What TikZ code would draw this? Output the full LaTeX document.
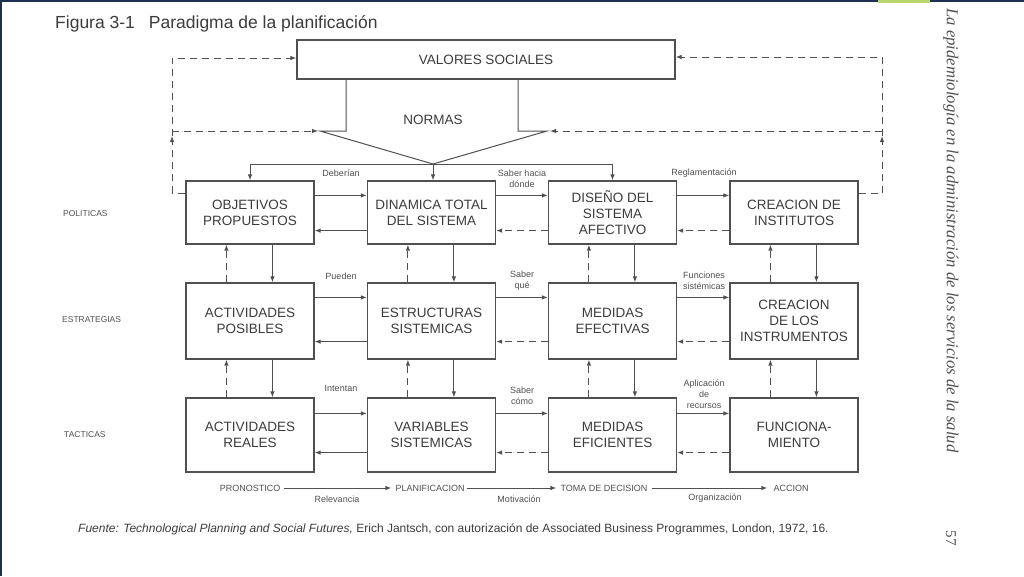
\documentclass[tikz,border=0pt]{standalone}
\usepackage{fontspec}
\setmainfont{Liberation Sans}
\newfontfamily\serifit{Liberation Serif}
\usetikzlibrary{arrows.meta}
\definecolor{ink}{HTML}{505050}
\definecolor{txt}{HTML}{3C3C3C}
\definecolor{navy}{HTML}{1F2F4F}
\definecolor{lime}{HTML}{B9D66E}
\begin{document}
\begin{tikzpicture}[x=1pt,y=-1pt,
  box/.style={draw=ink, line width=1.2pt, minimum width=128pt, text=txt,
    font=\fontsize{13.5}{16}\selectfont, align=center, inner sep=0pt},
  ar/.style={draw=ink, line width=1pt, -{Latex[length=6pt,width=4.5pt]}},
  ln/.style={draw=ink, line width=1pt},
  dsh/.style={dash pattern=on 7pt off 5pt},
  lab/.style={text=ink, font=\fontsize{9}{11}\selectfont, align=center, inner sep=0pt},
  side/.style={text=ink, font=\fontsize{8.5}{10}\selectfont, anchor=west, inner sep=0pt}]
\fill[white] (0,0) rectangle (1024,576);
\useasboundingbox (0,0) rectangle (1024,576);
% frame
\fill[navy] (0,0) rectangle (1024,2);
\fill[navy] (0,0) rectangle (1.5,576);
\fill[lime] (878,0) rectangle (930,2.5);
% title
\node[anchor=west, text=txt, font=\fontsize{17.5}{20}\selectfont, inner sep=0pt] (title) at (55,24)
  {Figura 3-1\hspace{14pt}Paradigma de la planificación};
% top box
\node[box, minimum width=378pt, minimum height=39pt] (val) at (486,59.5) {VALORES SOCIALES};
\node[text=txt, font=\fontsize{13.5}{16}\selectfont, inner sep=0pt] (normas) at (433,120) {NORMAS};
% boxes
\node[box, minimum height=63pt] (a11) at (250,212.5) {OBJETIVOS\\PROPUESTOS};
\node[box, minimum height=63pt] (a12) at (431.5,212.5) {DINAMICA TOTAL\\DEL SISTEMA};
\node[box, minimum height=63pt] (a13) at (612.5,212.5) {DISEÑO DEL\\SISTEMA\\AFECTIVO};
\node[box, minimum height=63pt] (a14) at (794,212.5) {CREACION DE\\INSTITUTOS};
\node[box, minimum height=76pt] (a21) at (250,321) {ACTIVIDADES\\POSIBLES};
\node[box, minimum height=76pt] (a22) at (431.5,321) {ESTRUCTURAS\\SISTEMICAS};
\node[box, minimum height=76pt] (a23) at (612.5,321) {MEDIDAS\\EFECTIVAS};
\node[box, minimum height=76pt] (a24) at (794,321) {CREACION\\DE LOS\\INSTRUMENTOS};
\node[box, minimum height=74pt] (a31) at (250,435) {ACTIVIDADES\\REALES};
\node[box, minimum height=74pt] (a32) at (431.5,435) {VARIABLES\\SISTEMICAS};
\node[box, minimum height=74pt] (a33) at (612.5,435) {MEDIDAS\\EFICIENTES};
\node[box, minimum height=74pt] (a34) at (794,435) {FUNCIONA-\\MIENTO};
% funnel
\coordinate (lv) at (346,131);
\coordinate (ll) at (320,131);
\coordinate (rv) at (518,131);
\coordinate (rr) at (547,131);
\coordinate (apex) at (433,164);
\draw[ln] (val.south -| lv) -- (lv) -- (ll) -- (apex) -- (rr) -- (rv) -- (val.south -| rv);
\coordinate (hl) at (250,164);
\coordinate (hr) at (612.5,164);
\draw[ln] (hl) -- (hr);
\draw[ar] (hl) -- (a11.north);
\draw[ar] (apex) -- (a12.north -| apex);
\draw[ar] (hr) -- (a13.north);
% left dashed loop
\coordinate (lb) at (172,193);
\coordinate (lm) at (172,136);
\coordinate (lj) at (172,131);
\coordinate (lt) at (172,58);
\draw[ln,dsh] (a11.west |- lb) -- (lb);
\draw[ar,dsh] (lb) -- (lm);
\draw[ar,dsh] (lm) -- (lt) -- (val.west |- lt);
\draw[ar,dsh] (lj) -- ([xshift=-2pt]ll);
% right dashed loop
\coordinate (rb) at (882,193);
\coordinate (rm) at (882,136);
\coordinate (rj) at (882,131);
\coordinate (rt) at (882,57);
\draw[ln,dsh] (a14.east |- rb) -- (rb);
\draw[ar,dsh] (rb) -- (rm);
\draw[ar,dsh] (rm) -- (rt) -- (val.east |- rt);
\draw[ar,dsh] (rj) -- ([xshift=3pt]rr);
% horizontal arrows
\foreach \r/\t/\b in {1/15/14,2/15/18,3/16/20} {
  \foreach \c/\n in {1/2,2/3,3/4} {
    \draw[ar] ([yshift=-\t pt]a\r\c.north east) -- ([yshift=-\t pt]a\r\n.north west);
  }
  \draw[ar] ([yshift=\b pt]a\r2.south west) -- ([yshift=\b pt]a\r1.south east);
  \draw[ar,dsh] ([yshift=\b pt]a\r3.south west) -- ([yshift=\b pt]a\r2.south east);
  \draw[ar,dsh] ([yshift=\b pt]a\r4.south west) -- ([yshift=\b pt]a\r3.south east);
}
% vertical arrows
\foreach \c in {1,2,3,4} {
  \foreach \r/\s in {1/2,2/3} {
    \draw[ar,dsh] ([xshift=41pt]a\s\c.north west) -- ([xshift=41pt]a\r\c.south west);
    \draw[ar] ([xshift=87pt]a\r\c.south west) -- ([xshift=87pt]a\s\c.north west);
  }
}
% labels
\node[lab] (l1) at (341,173) {Deberían};
\node[lab] (l2) at (522,179) {Saber hacia\\dónde};
\node[lab] (l3) at (704,173) {Reglamentación};
\node[lab] (l4) at (341,276) {Pueden};
\node[lab] (l5) at (522,281) {Saber\\qué};
\node[lab] (l6) at (704,281) {Funciones\\sistémicas};
\node[lab] (l7) at (341,388) {Intentan};
\node[lab] (l8) at (522,396) {Saber\\cómo};
\node[lab] (l9) at (704,394) {Aplicación\\de\\recursos};
% side labels
\node[side] (s1) at (63,214) {POLITICAS};
\node[side] (s2) at (62,320) {ESTRATEGIAS};
\node[side] (s3) at (64,435) {TACTICAS};
% bottom process
\node[lab] (pr) at (250,488) {PRONOSTICO};
\node[lab] (pl) at (430,488) {PLANIFICACION};
\node[lab] (tm) at (604,488) {TOMA DE DECISION};
\node[lab] (ac) at (791,488) {ACCION};
\draw[ar] ([xshift=4pt]pr.east) -- ([xshift=-4pt]pl.west);
\draw[ar] ([xshift=2pt]pl.east) -- ([xshift=-4pt]tm.west);
\draw[ar] ([xshift=4pt]tm.east) -- ([xshift=-6pt]ac.west);
\node[lab] (b1) at (337,499) {Relevancia};
\node[lab] (b2) at (519,499) {Motivación};
\node[lab] (b3) at (715,498) {Organización};
% footer
\node[anchor=west, text=txt, font=\fontsize{12}{14}\selectfont, inner sep=0pt] (foot) at (78,529)
  {\textit{Fuente: Technological Planning and Social Futures,} Erich Jantsch, con autorización de Associated Business Programmes, London, 1972, 16.};
% running head
\node[rotate=-90, anchor=west, text=ink, font=\serifit\itshape\fontsize{16.7}{18}\selectfont, inner sep=0pt] (rh) at (951,8)
  {La epidemiología en la administración de los servicios de la salud};
\node[rotate=-90, text=ink, font=\serifit\fontsize{15}{18}\selectfont, inner sep=0pt] (pg) at (951,538) {57};
\end{tikzpicture}
\end{document}
